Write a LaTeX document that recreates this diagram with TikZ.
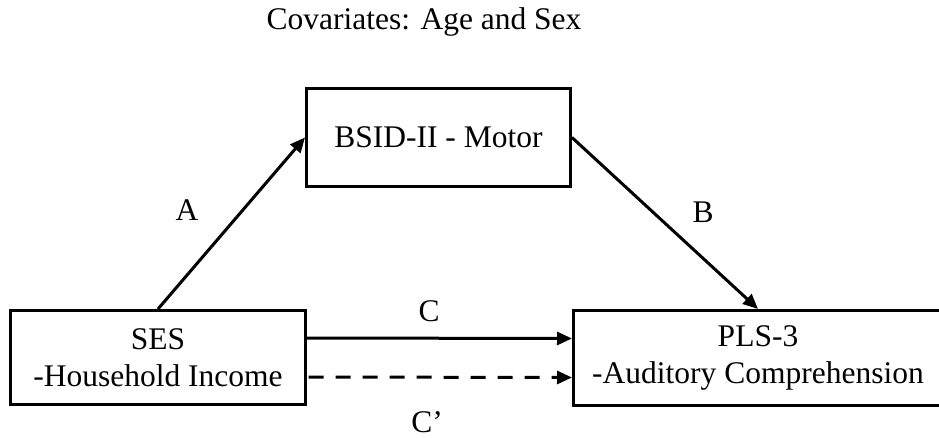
\documentclass[tikz,border=0pt]{standalone}
\usepackage{fontspec}
\setmainfont{Liberation Serif}
\usetikzlibrary{arrows.meta}
\begin{document}
\begin{tikzpicture}[x=1pt,y=-1pt,
  box/.style={draw=black,line width=3pt,inner sep=0pt,align=center,font=\fontsize{31.5}{37}\selectfont},
  lbl/.style={inner sep=0pt,font=\fontsize{31.5}{37}\selectfont},
  conn/.style={line width=3pt,-{Triangle[length=15pt,width=13pt]}}]
\useasboundingbox (0,0) rectangle (939,438);
\node[lbl] (title) at (424,22) {Covariates: Age and Sex};
\node[box,minimum width=264pt,minimum height=98pt] (mot) at (438.5,137.5) {BSID-II - Motor};
\node[box,minimum width=295pt,minimum height=94pt] (ses) at (158,357.5) {SES\\-Household Income};
\node[box,minimum width=369pt,minimum height=95pt] (pls) at (758,358) {PLS-3\\-Auditory Comprehension};
\draw[conn] (ses.north) -- (mot.west);
\draw[conn] (mot.east) -- (pls.north);
\draw[conn] ([yshift=19.5pt]ses.east) -- ([yshift=19.5pt]pls.west);
\draw[conn,dash pattern=on 15pt off 12pt] ([yshift=-19.5pt,xshift=1.5pt]ses.east) -- ([yshift=-19.5pt]pls.west);
\node[lbl] (la) at (187,210) {A};
\node[lbl] (lb) at (703,212) {B};
\node[lbl] (lc) at (429,311) {C};
\node[lbl] (lcp) at (427,422) {C’};
\end{tikzpicture}
\end{document}
